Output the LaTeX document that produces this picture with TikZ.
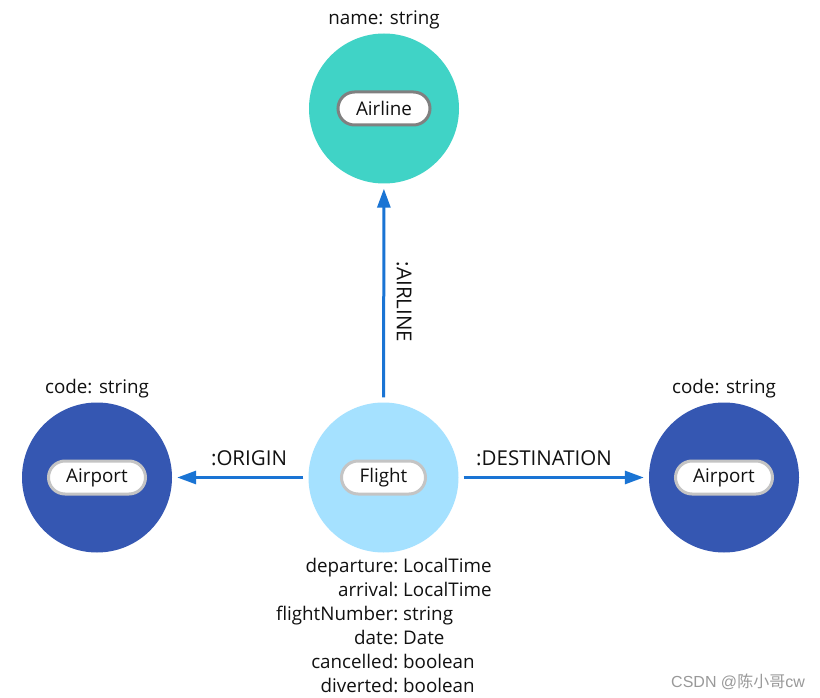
\documentclass[tikz,border=0pt]{standalone}
\usepackage{fontspec}
\setmainfont{Open Sans}
\newfontfamily\cjk{Noto Sans CJK SC}
\newfontfamily\wmfont{Liberation Sans}
\usetikzlibrary{arrows.meta,shapes.misc}
\definecolor{airlinec}{HTML}{40D3C6}
\definecolor{flightc}{HTML}{A5E1FF}
\definecolor{airportc}{HTML}{3557B2}
\definecolor{arrowc}{HTML}{1A74D4}
\definecolor{pilldark}{HTML}{808080}
\definecolor{pilllight}{HTML}{C4C4C4}
\definecolor{txt}{HTML}{111111}
\tikzset{
  bubble/.style={circle, minimum size=150pt, inner sep=0pt},
  pill/.style={rounded rectangle, fill=white, line width=3pt, minimum height=33pt, inner sep=0pt, text=txt},
  rel/.style={draw=arrowc, line width=3pt, shorten <=5pt, shorten >=5pt, -{Triangle[length=19pt,width=13pt]}},
  lbl/.style={inner sep=0pt, text=txt},
  rellbl/.style={inner sep=0pt, text=txt, font=\fontsize{20.5}{24}\selectfont}
}
\begin{document}
\begin{tikzpicture}[x=1pt,y=-1pt, font=\fontsize{18.8}{22}\selectfont]
\useasboundingbox (0,0) rectangle (820,698);
\fill[white] (0,0) rectangle (820,698);
% bubbles
\node[bubble, fill=airlinec] (airline) at (384,108.5) {};
\node[bubble, fill=flightc] (flight) at (383.5,477.5) {};
\node[bubble, fill=airportc] (origin) at (97,477.5) {};
\node[bubble, fill=airportc] (dest) at (724,477.5) {};
% captions
\node[pill, draw=pilldark, minimum width=92pt] (airlinep) at (airline) {Airline};
\node[pill, draw=pilllight, minimum width=84pt] (flightp) at (flight) {Flight};
\node[pill, draw=pilllight, minimum width=97pt] (originp) at (origin) {Airport};
\node[pill, draw=pilllight, minimum width=97pt] (destp) at (dest) {Airport};
% properties
\node[lbl, anchor=base] (airlineprop) at (384,24.5) {name: string};
\node[lbl, anchor=base] (originprop) at (97,393.5) {code: string};
\node[lbl, anchor=base] (destprop) at (724,393.5) {code: string};
\foreach \k/\v [count=\i from 0] in {departure/LocalTime, arrival/LocalTime, flightNumber/string, date/Date, cancelled/boolean, diverted/boolean}{
  \node[lbl, anchor=base east] (key\i) at (398.5,{572.5+24*\i}) {\k:};
  \node[lbl, anchor=base west] (val\i) at (403,{572.5+24*\i}) {\v};
}
% relationships
\draw[rel] (flight) -- (airline);
\draw[rel] (flight) -- (origin);
\draw[rel] (flight) -- (dest);
\node[rellbl, rotate=-90] (airlinelbl) at (404,302) {:AIRLINE};
\node[rellbl] (originlbl) at (249,458) {:ORIGIN};
\node[rellbl] (destlbl) at (544,458) {:DESTINATION};
% watermark
\node[inner sep=0pt, anchor=base east, text=black!40, font=\fontsize{16}{18}\selectfont\wmfont] (wm) at (805,687) {CSDN @{\cjk 陈小哥}cw};
\end{tikzpicture}
\end{document}
